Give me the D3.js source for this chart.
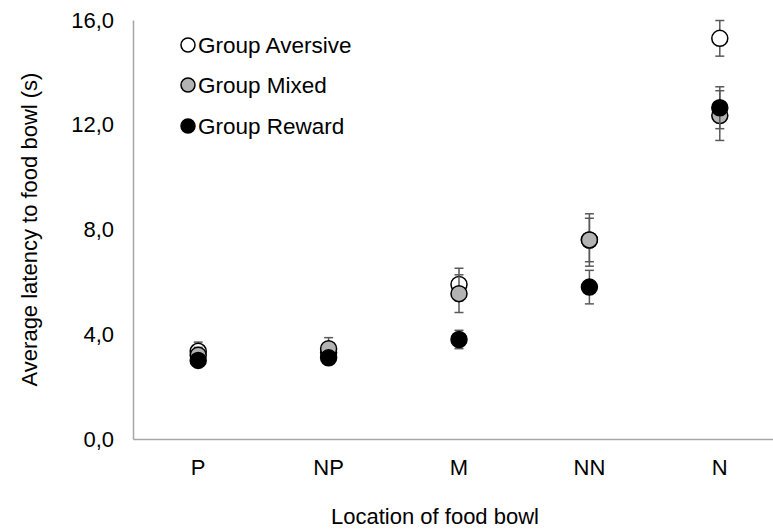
<!DOCTYPE html>
<html>
<head>
<meta charset="utf-8">
<script src="https://cdn.jsdelivr.net/npm/d3@7"></script>
<style>
  html, body { margin: 0; padding: 0; background: #fff; }
  svg { display: block; font-family: "Liberation Sans", Arial, sans-serif; }
</style>
</head>
<body>
<svg id="chart" width="773" height="531"></svg>
<script>
// Locations of the food bowl along the x axis
const locations = ["P", "NP", "M", "NN", "N"];

// Mean latency (s) per group and location
const aversiveMean = [3.35, 3.3, 5.9, 7.6, 15.3];
const mixedMean    = [3.2, 3.45, 5.55, 7.6, 12.35];
const rewardMean   = [3.0, 3.1, 3.8, 5.8, 12.65];

// Error bar half-lengths (s)
const aversiveErr = [0.35, 0.3, 0.62, 0.83, 0.68];
const mixedErr    = [0.3, 0.42, 0.72, 1.0, 0.95];
const rewardErr   = [0.2, 0.2, 0.35, 0.64, 0.8];

const yTicks = [0, 4, 8, 12, 16];

const groups = [
  { name: "Group Aversive", mean: aversiveMean, err: aversiveErr, fill: "#ffffff" },
  { name: "Group Mixed",    mean: mixedMean,    err: mixedErr,    fill: "#b3b3b3" },
  { name: "Group Reward",   mean: rewardMean,   err: rewardErr,   fill: "#000000" }
];

const FS = 22;
const svg = d3.select("#chart");
const plot = { left: 133, right: 785, top: 20, bottom: 439 };

const x = d3.scaleBand().domain(locations).range([plot.left, plot.right]);
const y = d3.scaleLinear().domain([0, 16]).range([plot.bottom, plot.top]);

// Axes
const yAxis = svg.append("g")
  .attr("transform", `translate(${plot.left},0)`)
  .call(d3.axisLeft(y).tickValues(yTicks).tickSize(0).tickPadding(19)
    .tickFormat(d => d3.format(".1f")(d).replace(".", ",")));
yAxis.select(".domain").attr("stroke", "#a6a6a6").attr("stroke-width", 1.5);
yAxis.selectAll("text").attr("font-size", FS).attr("fill", "#000")
  .attr("font-family", "Liberation Sans, Arial, sans-serif");

const xAxis = svg.append("g")
  .attr("transform", `translate(0,${plot.bottom})`)
  .call(d3.axisBottom(x).tickSize(0).tickPadding(20));
xAxis.select(".domain").attr("stroke", "#a6a6a6").attr("stroke-width", 1.5);
xAxis.selectAll("text").attr("font-size", FS).attr("fill", "#000")
  .attr("font-family", "Liberation Sans, Arial, sans-serif");

// Axis titles
svg.append("text")
  .attr("transform", `translate(31,${(plot.top + plot.bottom) / 2}) rotate(-90)`)
  .attr("text-anchor", "middle").attr("dominant-baseline", "middle")
  .attr("font-size", FS).text("Average latency to food bowl (s)");

svg.append("text")
  .attr("x", 435).attr("y", 524)
  .attr("text-anchor", "middle")
  .attr("font-size", FS).text("Location of food bowl");

// Error bars and markers, group by group
const r = 8, cap = 4.5;
groups.forEach(g => {
  const layer = svg.append("g");
  const rows = locations.map((loc, i) => ({ loc, m: g.mean[i], e: g.err[i] }));
  const cx = d => x(d.loc) + x.bandwidth() / 2;

  const eb = layer.selectAll(".eb").data(rows).enter().append("g")
    .attr("stroke", "#595959").attr("stroke-width", 1.5);
  eb.append("line").attr("x1", cx).attr("x2", cx)
    .attr("y1", d => y(d.m + d.e)).attr("y2", d => y(d.m - d.e));
  eb.append("line").attr("x1", d => cx(d) - cap).attr("x2", d => cx(d) + cap)
    .attr("y1", d => y(d.m + d.e)).attr("y2", d => y(d.m + d.e));
  eb.append("line").attr("x1", d => cx(d) - cap).attr("x2", d => cx(d) + cap)
    .attr("y1", d => y(d.m - d.e)).attr("y2", d => y(d.m - d.e));

  layer.selectAll("circle").data(rows).enter().append("circle")
    .attr("cx", cx).attr("cy", d => y(d.m)).attr("r", r)
    .attr("fill", g.fill).attr("stroke", "#000").attr("stroke-width", 1.5);
});

// Legend
const legend = svg.append("g");
const legendRows = [45, 85, 126];
groups.forEach((g, i) => {
  const ly = legendRows[i];
  legend.append("circle").attr("cx", 188).attr("cy", ly).attr("r", 7)
    .attr("fill", g.fill).attr("stroke", "#000").attr("stroke-width", 1.5);
  legend.append("text").attr("x", 198).attr("y", ly)
    .attr("dominant-baseline", "central")
    .attr("font-size", 22.5).text(g.name);
});
</script>
</body>
</html>
